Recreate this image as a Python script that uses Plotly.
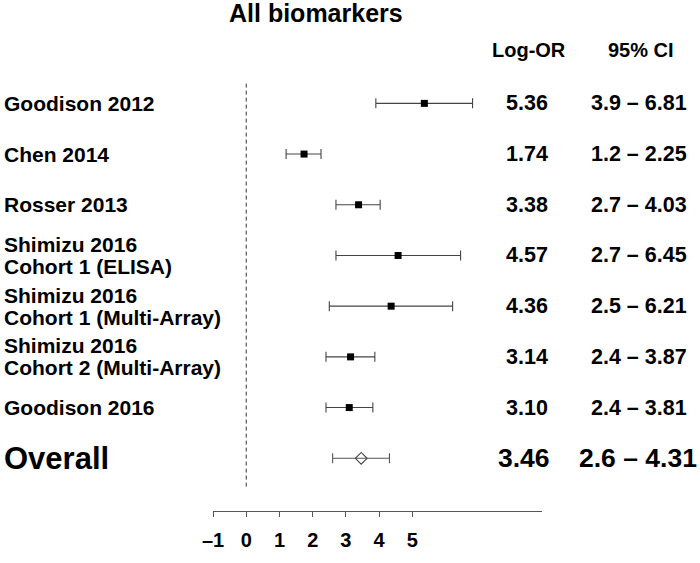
import plotly.graph_objects as go

studies_line1 = ["Goodison 2012", "Chen 2014", "Rosser 2013",
                 "Shimizu 2016", "Shimizu 2016", "Shimizu 2016", "Goodison 2016"]
studies_line2 = ["", "", "", "Cohort 1 (ELISA)", "Cohort 1 (Multi-Array)",
                 "Cohort 2 (Multi-Array)", ""]
log_or = [5.36, 1.74, 3.38, 4.57, 4.36, 3.14, 3.10]
ci_low = [3.9, 1.2, 2.7, 2.7, 2.5, 2.4, 2.4]
ci_high = [6.81, 2.25, 4.03, 6.45, 6.21, 3.87, 3.81]
or_text = ["5.36", "1.74", "3.38", "4.57", "4.36", "3.14", "3.10"]
ci_text = ["3.9 – 6.81", "1.2 – 2.25", "2.7 – 4.03", "2.7 – 6.45",
           "2.5 – 6.21", "2.4 – 3.87", "2.4 – 3.81"]

overall_label = "Overall"
overall_or = 3.46
overall_low = 2.6
overall_high = 4.31
overall_or_text = "3.46"
overall_ci_text = "2.6 – 4.31"

header_or = "Log-OR"
header_ci = "95% CI"
title_text = "All biomarkers"

tick_vals = [-1, 0, 1, 2, 3, 4, 5]
tick_text = ["–1", "0", "1", "2", "3", "4", "5"]

FONT = "Liberation Sans, Arial, Helvetica, sans-serif"
W, H = 700, 563
L, R, T, B = 213, 158, 40, 41
PW = W - L - R


def px(xpix):
    return (xpix - L) / PW


rows = list(range(len(studies_line1)))
overall_row = len(studies_line1)

fig = go.Figure()
fig.add_trace(go.Scatter(
    x=log_or, y=rows, mode="markers",
    marker=dict(symbol="square", size=7, color="black"),
    error_x=dict(type="data", symmetric=False,
                 array=[h - m for h, m in zip(ci_high, log_or)],
                 arrayminus=[m - l for m, l in zip(log_or, ci_low)],
                 color="#444444", thickness=1.1, width=5),
    cliponaxis=False, showlegend=False, hoverinfo="skip"))
fig.add_trace(go.Scatter(
    x=[overall_or], y=[overall_row], mode="markers",
    marker=dict(symbol="diamond-open", size=9, color="#444444", line=dict(width=1.1)),
    error_x=dict(type="data", symmetric=False,
                 array=[overall_high - overall_or],
                 arrayminus=[overall_or - overall_low],
                 color="#555555", thickness=1.1, width=5),
    cliponaxis=False, showlegend=False, hoverinfo="skip"))

# reference line at 0
fig.add_shape(type="line", x0=0, x1=0, y0=-0.39, y1=7.56, xref="x", yref="y",
              line=dict(color="#333333", width=1, dash="4px,3px"))

bold = lambda s: dict(family=FONT, size=s, color="black", weight="bold")
ann = []
for r in rows:
    if studies_line2[r]:
        ann.append(dict(x=px(2), y=r - 0.215, xref="paper", yref="y", text=studies_line1[r],
                        showarrow=False, xanchor="left", yanchor="middle", font=bold(21)))
        ann.append(dict(x=px(2), y=r + 0.215, xref="paper", yref="y", text=studies_line2[r],
                        showarrow=False, xanchor="left", yanchor="middle", font=bold(21)))
    else:
        ann.append(dict(x=px(2), y=r, xref="paper", yref="y", text=studies_line1[r],
                        showarrow=False, xanchor="left", yanchor="middle", font=bold(21)))
    ann.append(dict(x=px(550), y=r, xref="paper", yref="y", text=or_text[r], showarrow=False,
                    xanchor="right", yanchor="middle", font=bold(21.5)))
    ann.append(dict(x=px(689), y=r, xref="paper", yref="y", text=ci_text[r], showarrow=False,
                    xanchor="right", yanchor="middle", font=bold(21.5)))
ann.append(dict(x=px(2), y=overall_row, xref="paper", yref="y", text=overall_label,
                showarrow=False, xanchor="left", yanchor="middle", font=bold(31)))
ann.append(dict(x=px(552), y=overall_row, xref="paper", yref="y", text=overall_or_text,
                showarrow=False, xanchor="right", yanchor="middle", font=bold(26.5)))
ann.append(dict(x=px(577), y=overall_row, xref="paper", yref="y", text=overall_ci_text,
                showarrow=False, xanchor="left", yanchor="middle", font=bold(26.5)))
# headers
ann.append(dict(x=px(529), y=-1.05, xref="paper", yref="y", text=header_or, showarrow=False,
                xanchor="center", yanchor="middle", font=bold(20)))
ann.append(dict(x=px(641), y=-1.05, xref="paper", yref="y", text=header_ci, showarrow=False,
                xanchor="center", yanchor="middle", font=bold(20)))
# title
ann.append(dict(x=px(316), y=1 + (T - 12) / (H - T - B), xref="paper", yref="paper",
                text=title_text, showarrow=False, xanchor="center", yanchor="middle",
                font=bold(25)))

fig.update_layout(
    annotations=ann,
    width=W, height=H,
    margin=dict(l=L, r=R, t=T, b=B),
    paper_bgcolor="white", plot_bgcolor="white",
    hovermode=False,
    xaxis=dict(range=[-1, 8.9], tickvals=tick_vals, ticktext=tick_text,
               showgrid=False, zeroline=False, showline=True, linecolor="#555555",
               linewidth=1, ticks="outside", ticklen=5, tickcolor="#555555",
               ticklabelstandoff=6,
               tickfont=bold(20)),
    yaxis=dict(range=[8.04, -1.25], visible=False, showgrid=False, zeroline=False),
)

fig.write_html("out.html",
               config={"displayModeBar": False, "responsive": False},
               post_script="document.body.style.margin='0';document.body.style.overflow='hidden';")
